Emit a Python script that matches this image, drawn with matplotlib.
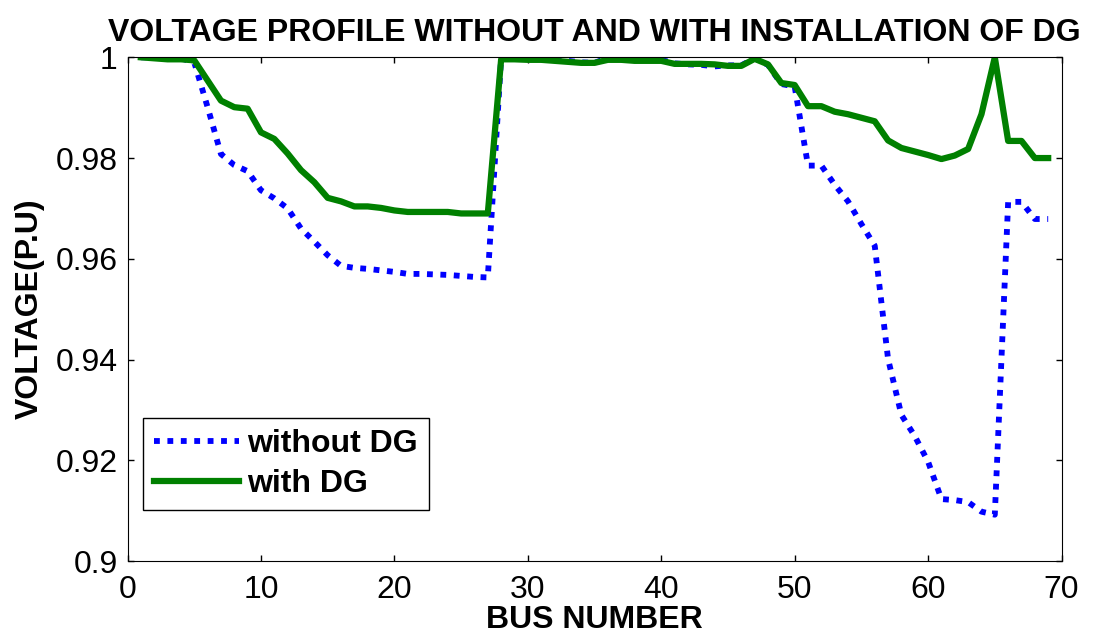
import matplotlib
matplotlib.use("Agg")
import matplotlib.pyplot as plt
import numpy as np

plt.rcParams['font.family'] = ['Liberation Sans', 'DejaVu Sans']

bus = np.arange(1, 70)

# voltage without DG (p.u.)
v_without = [1.0000, 1.0000, 0.9999, 0.9998, 0.9990, 0.9901, 0.9808, 0.9786, 0.9774, 0.9736,
             0.9720, 0.9700, 0.9660, 0.9634, 0.9607, 0.9586, 0.9582, 0.9580, 0.9577, 0.9574,
             0.9570, 0.9570, 0.9569, 0.9568, 0.9566, 0.9564, 0.9563, 0.9999, 0.9999, 0.9997,
             0.9997, 0.9996, 0.9993, 0.9990, 0.9989, 0.9999, 0.9997, 0.9996, 0.9995, 0.9995,
             0.9988, 0.9986, 0.9985, 0.9982, 0.9984, 0.9984, 0.9998, 0.9985, 0.9947, 0.9942,
             0.9785, 0.9785, 0.9747, 0.9714, 0.9669, 0.9626, 0.9401, 0.9290, 0.9248, 0.9197,
             0.9123, 0.9121, 0.9117, 0.9098, 0.9092, 0.9713, 0.9713, 0.9679, 0.9679]

# voltage with DG (p.u.)
v_with = [1.0000, 0.9998, 0.9996, 0.9996, 0.9994, 0.9954, 0.9914, 0.9901, 0.9898, 0.9851,
          0.9838, 0.9809, 0.9776, 0.9752, 0.9721, 0.9714, 0.9704, 0.9704, 0.9701, 0.9696,
          0.9693, 0.9693, 0.9693, 0.9693, 0.9690, 0.9690, 0.9690, 0.9996, 0.9996, 0.9995,
          0.9995, 0.9993, 0.9991, 0.9989, 0.9989, 0.9995, 0.9995, 0.9993, 0.9993, 0.9993,
          0.9987, 0.9987, 0.9987, 0.9986, 0.9983, 0.9983, 0.9997, 0.9986, 0.9949, 0.9945,
          0.9903, 0.9903, 0.9892, 0.9887, 0.9880, 0.9873, 0.9835, 0.9820, 0.9813, 0.9806,
          0.9798, 0.9805, 0.9818, 0.9887, 1.0000, 0.9834, 0.9834, 0.9800, 0.9800]

fig = plt.figure(figsize=(10.93, 6.34), dpi=100)
ax = fig.add_axes([0.1167, 0.1151, 0.8545, 0.7945])

ax.plot(bus, v_without, color=(0, 0, 1), linewidth=4.2, linestyle=(0, (1, 1.3)),
        dash_capstyle='butt', label='without DG')
ax.plot(bus, v_with, color=(0, 0.5, 0), linewidth=4.5, label='with DG')

ax.set_xlim(0, 70)
ax.set_ylim(0.9, 1.0)
ax.set_xticks(np.arange(0, 71, 10))
ax.set_yticks([0.9, 0.92, 0.94, 0.96, 0.98, 1.0])
ax.set_yticklabels(['0.9', '0.92', '0.94', '0.96', '0.98', '1'])
ax.tick_params(direction='in', top=True, right=True, labelsize=23, length=4, width=1)
ax.tick_params(axis='x', pad=10)
ax.tick_params(axis='y', pad=7)

ax.set_title('VOLTAGE PROFILE WITHOUT AND WITH INSTALLATION OF DG',
             fontsize=23, fontweight='bold', pad=12)
ax.set_xlabel('BUS NUMBER', fontsize=23, fontweight='bold', labelpad=0)
ax.set_ylabel('VOLTAGE(P.U)', fontsize=23, fontweight='bold', labelpad=8)

leg = ax.legend(loc='lower left', bbox_to_anchor=(0.0166, 0.101), borderaxespad=0,
                handlelength=2.65, handletextpad=0.25, fancybox=False, framealpha=1,
                borderpad=0.35, labelspacing=0.3,
                prop={'weight': 'bold', 'size': 23})
leg.get_frame().set_edgecolor('black')
leg.get_frame().set_linewidth(1)

fig.savefig('out.png', dpi=100)
